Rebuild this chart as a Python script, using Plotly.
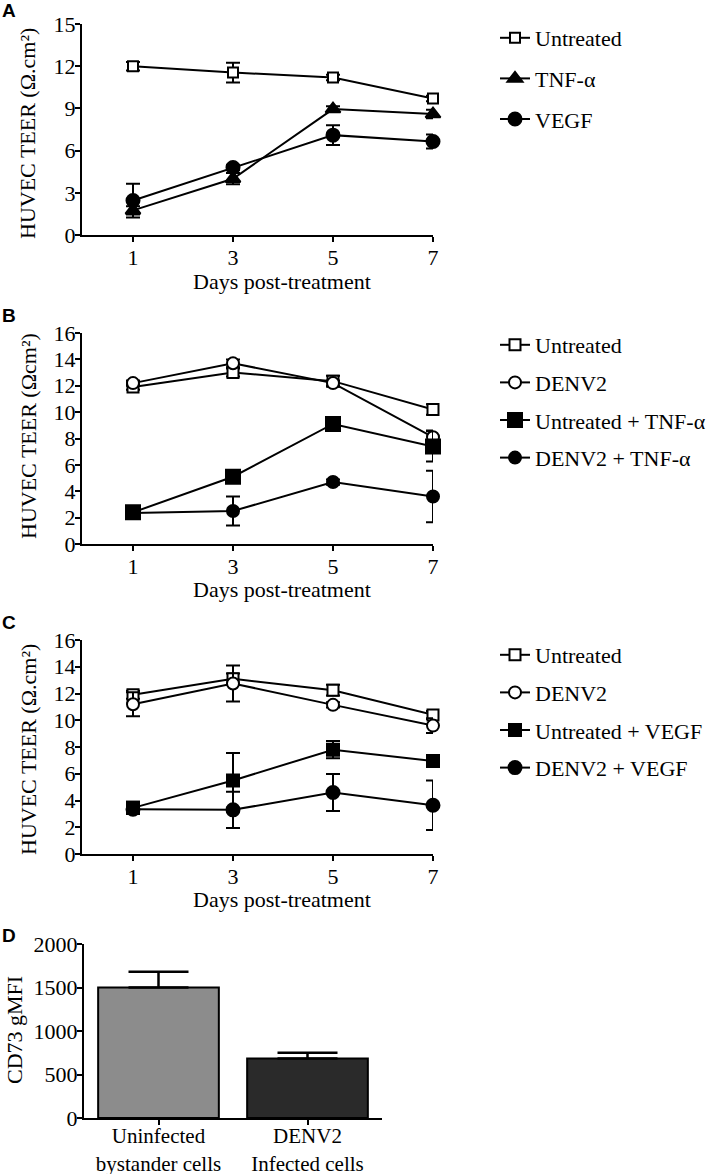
import plotly.graph_objects as go

W, H = 710, 1174

days = [1, 3, 5, 7]

# Panel A
a_untreated = [12.0, 11.55, 11.2, 9.7]
a_untreated_err = [0.3, 0.7, 0.2, 0.2]
a_tnf = [1.75, 4.0, 8.95, 8.6]
a_tnf_err = [0.3, 0.4, 0.2, 0.3]
a_vegf = [2.45, 4.8, 7.1, 6.65]
a_vegf_err = [1.2, 0.2, 0.7, 0.5]

# Panel B
b_untreated = [11.9, 13.0, 12.35, 10.2]
b_untreated_err = [0.2, 0.3, 0.4, 0.4]
b_denv2 = [12.2, 13.7, 12.2, 8.1]
b_denv2_err = [0.2, 0.3, 0.2, 0.5]
b_untr_tnf = [2.4, 5.1, 9.1, 7.4]
b_untr_tnf_err = [0.3, 0.4, 0.3, 1.15]
b_denv2_tnf = [2.35, 2.5, 4.7, 3.6]
b_denv2_tnf_err = [0.3, 1.1, 0.2, 1.95]

# Panel C
c_untreated = [11.9, 13.1, 12.25, 10.4]
c_untreated_err = [0.3, 0.4, 0.4, 0.3]
c_denv2 = [11.2, 12.75, 11.15, 9.6]
c_denv2_err = [0.9, 1.35, 0.2, 0.55]
c_untr_vegf = [3.45, 5.5, 7.8, 6.95]
c_untr_vegf_err = [0.45, 2.05, 0.65, 0.2]
c_denv2_vegf = [3.35, 3.3, 4.6, 3.65]
c_denv2_vegf_err = [0.3, 1.35, 1.38, 1.85]

# Panel D
d_categories = ["Uninfected<br>bystander cells", "DENV2<br>Infected cells"]
d_values = [1500, 685]
d_err = [180, 65]
d_colors = ["#8c8c8c", "#2a2a2a"]

SERIF = "Liberation Serif"
FS = 22

fig = go.Figure()


def add_series(x, y, err, name, symbol, filled, size, xa, ya, legend):
    fig.add_trace(go.Scatter(
        x=x, y=y, name=name, mode="lines+markers",
        xaxis=xa, yaxis=ya, legend=legend, legendgroup=legend + name,
        line=dict(color="black", width=2),
        marker=dict(symbol=symbol, size=size,
                    color="black" if filled else "white",
                    line=dict(color="black", width=2)),
        error_y=dict(type="data", array=err, color="black", thickness=2, width=7),
        cliponaxis=False,
    ))


add_series(days, a_untreated, a_untreated_err, "Untreated", "square", False, 10, "x", "y", "legend")
add_series(days, a_tnf, a_tnf_err, "TNF-\u03b1", "triangle-up", True, 13, "x", "y", "legend")
add_series(days, a_vegf, a_vegf_err, "VEGF", "circle", True, 13, "x", "y", "legend")

add_series(days, b_untreated, b_untreated_err, "Untreated", "square", False, 11, "x2", "y2", "legend2")
add_series(days, b_denv2, b_denv2_err, "DENV2", "circle", False, 12, "x2", "y2", "legend2")
add_series(days, b_untr_tnf, b_untr_tnf_err, "Untreated + TNF-\u03b1", "square", True, 14, "x2", "y2", "legend2")
add_series(days, b_denv2_tnf, b_denv2_tnf_err, "DENV2 + TNF-\u03b1", "circle", True, 12, "x2", "y2", "legend2")

add_series(days, c_untreated, c_untreated_err, "Untreated", "square", False, 11, "x3", "y3", "legend3")
add_series(days, c_denv2, c_denv2_err, "DENV2", "circle", False, 12, "x3", "y3", "legend3")
add_series(days, c_untr_vegf, c_untr_vegf_err, "Untreated + VEGF", "square", True, 12, "x3", "y3", "legend3")
add_series(days, c_denv2_vegf, c_denv2_vegf_err, "DENV2 + VEGF", "circle", True, 13, "x3", "y3", "legend3")

fig.add_trace(go.Bar(
    x=d_categories, y=d_values, xaxis="x4", yaxis="y4", showlegend=False,
    width=0.81,
    marker=dict(color=d_colors, line=dict(color="black", width=2)),
    error_y=dict(type="data", array=d_err, color="black", thickness=2.5, width=30, symmetric=False,
                 arrayminus=[0, 0]),
))


def px_x(p):
    return p / W


def px_y(p):
    return 1 - p / H


axis_common = dict(showline=True, linecolor="black", linewidth=2, ticks="outside",
                   ticklen=5, tickwidth=2, tickcolor="black", showgrid=False, zeroline=False,
                   automargin=False)
tf = dict(family=SERIF, size=FS, color="black")
xcommon = dict(ticklabelstandoff=-3, tickfont=tf, **axis_common)
ycommon = dict(ticklabelstandoff=-5, tickfont=tf, **axis_common)

xdom = [px_x(82), px_x(433)]
layout = dict(
    width=W, height=H, margin=dict(l=0, r=0, t=0, b=0, pad=0, autoexpand=False),
    paper_bgcolor="white", plot_bgcolor="white",
    font=dict(family=SERIF, size=FS, color="black"),
    xaxis=dict(domain=xdom, range=[-0.02, 7], tickvals=days, anchor="y", **xcommon),
    yaxis=dict(domain=[px_y(235), px_y(24)], range=[0, 15], tickvals=[0, 3, 6, 9, 12, 15], anchor="x", **ycommon),
    xaxis2=dict(domain=xdom, range=[-0.02, 7], tickvals=days, anchor="y2", **xcommon),
    yaxis2=dict(domain=[px_y(544), px_y(333)], range=[0, 16], tickvals=list(range(0, 17, 2)), anchor="x2", **ycommon),
    xaxis3=dict(domain=xdom, range=[-0.02, 7], tickvals=days, anchor="y3", **xcommon),
    yaxis3=dict(domain=[px_y(854), px_y(640)], range=[0, 16], tickvals=list(range(0, 17, 2)), anchor="x3", **ycommon),
    xaxis4=dict(domain=[px_x(84), px_x(382)], range=[-0.5, 1.5], type="category", anchor="y4",
                ticklabelstandoff=-7, tickfont=dict(family=SERIF, size=21, color="black"), **axis_common),
    yaxis4=dict(domain=[px_y(1118), px_y(944)], range=[0, 2000], tickvals=[0, 500, 1000, 1500, 2000], anchor="x4", **ycommon),
)

leg_common = dict(xanchor="left", yanchor="top", bgcolor="rgba(0,0,0,0)", borderwidth=0,
                  font=dict(family=SERIF, size=FS, color="black"), itemsizing="trace")
layout["legend"] = dict(x=px_x(495), y=px_y(17), tracegroupgap=9, **leg_common)
layout["legend2"] = dict(x=px_x(495), y=px_y(324), tracegroupgap=6, **leg_common)
layout["legend3"] = dict(x=px_x(495), y=px_y(634), tracegroupgap=6, **leg_common)

fig.update_layout(**layout)

annotations = []
for letter, yc in [("A", 11), ("B", 315), ("C", 622), ("D", 935)]:
    annotations.append(dict(text=letter, x=0, y=px_y(yc), xref="paper", yref="paper",
                            xanchor="left", yanchor="middle", showarrow=False,
                            font=dict(family="Liberation Sans", size=19, color="black", weight="bold")))
for yc in [281, 589, 899]:
    annotations.append(dict(text="Days post-treatment", x=px_x(282), y=px_y(yc), xref="paper", yref="paper",
                            xanchor="center", yanchor="middle", showarrow=False,
                            font=dict(family=SERIF, size=FS, color="black")))
for txt, yc in [("HUVEC TEER (\u03a9.cm\u00b2)", 134), ("HUVEC TEER (\u03a9cm\u00b2)", 436),
                ("HUVEC TEER (\u03a9.cm\u00b2)", 750), ("CD73 gMFI", 1030)]:
    annotations.append(dict(text=txt, x=px_x(28 if "HUVEC" in txt else 14), y=px_y(yc), xref="paper", yref="paper",
                            xanchor="center", yanchor="middle", textangle=-90, showarrow=False,
                            font=dict(family=SERIF, size=FS, color="black")))
fig.update_layout(annotations=annotations)

fig.write_html("out.html", config={"displayModeBar": False},
               post_script="document.body.style.margin='0';")
